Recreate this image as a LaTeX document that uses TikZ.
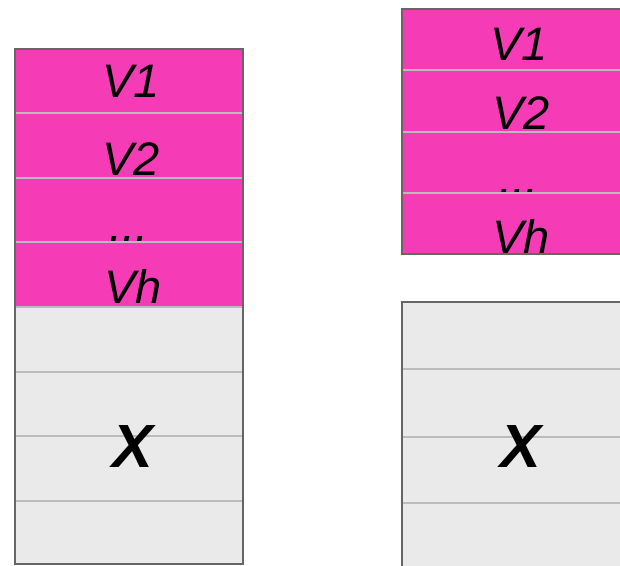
\documentclass[tikz,border=0pt]{standalone}
\usepackage{fontspec}
\setmainfont{Liberation Sans}
\definecolor{pinkfill}{HTML}{F63BB6}
\definecolor{grayfill}{HTML}{EAEAEA}
\definecolor{outerline}{HTML}{666666}
\definecolor{rowline}{HTML}{BBBBBB}
\begin{document}
\begin{tikzpicture}[x=1pt,y=-1pt,
  vlabel/.style={anchor=base,inner sep=0pt,font=\fontsize{47}{47}\selectfont\itshape},
  xlabel/.style={anchor=base,inner sep=0pt,font=\fontsize{61}{61}\selectfont\bfseries\itshape},
  rowsep/.style={draw=rowline,line width=2pt},
  frame/.style={draw=outerline,line width=2pt}]
\useasboundingbox (0,0) rectangle (620,565);
\clip (0,0) rectangle (620,565);
% left stack
\fill[pinkfill] (15,49) rectangle (243,307);
\fill[grayfill] (15,307) rectangle (243,564);
\node[vlabel] (lv1) at (131,97) {V1};
\node[vlabel] (lv2) at (131,175) {V2};
\node[vlabel] (ldots) at (129,241) {...};
\node[vlabel] (lvh) at (133,303) {Vh};
\foreach \yy in {113,178,242,307,372,436,501} \draw[rowsep] (15,\yy) -- (243,\yy);
\node[xlabel] (lx) at (133,467) {X};
\draw[frame] (15,49) rectangle (243,564);
% right stack
\fill[pinkfill] (402,9) rectangle (630,254);
\fill[grayfill] (402,302) rectangle (630,580);
\node[vlabel] (rv1) at (519,60) {V1};
\node[vlabel] (rv2) at (521,129) {V2};
\node[vlabel] (rdots) at (519,194) {...};
\node[vlabel] (rvh) at (521,253) {Vh};
\foreach \yy in {70,132,193} \draw[rowsep] (402,\yy) -- (630,\yy);
\foreach \yy in {369,437,503} \draw[rowsep] (402,\yy) -- (630,\yy);
\node[xlabel] (rx) at (521,467) {X};
\draw[frame] (402,9) rectangle (630,254);
\draw[frame] (402,302) rectangle (630,580);
\end{tikzpicture}
\end{document}
